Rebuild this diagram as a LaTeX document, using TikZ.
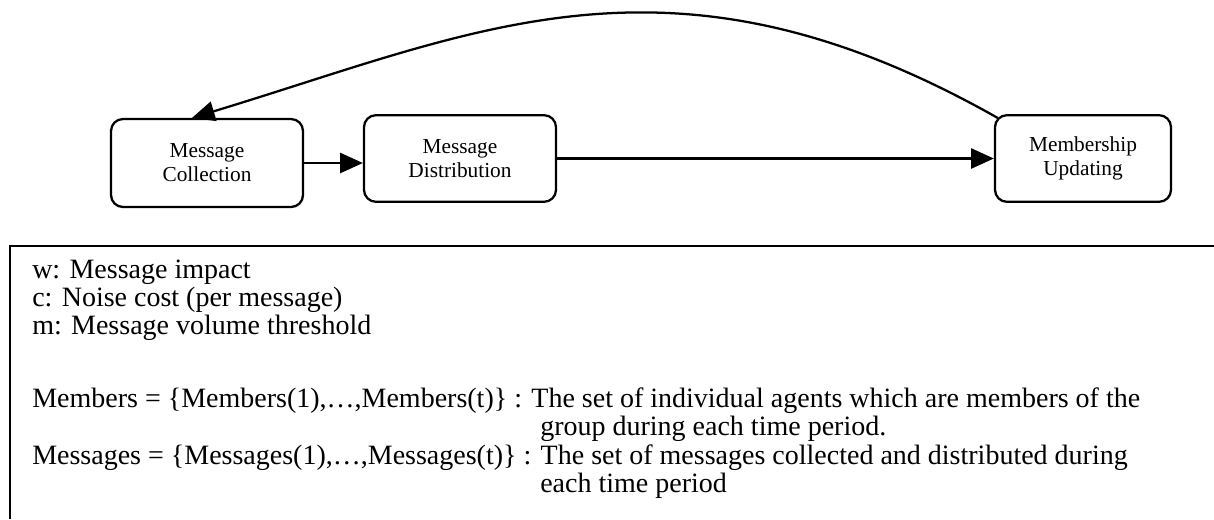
\documentclass[tikz,border=0pt]{standalone}
\usepackage{fontspec}
\setmainfont{Liberation Serif}
\usetikzlibrary{arrows.meta}
\begin{document}
\begin{tikzpicture}[x=0.75pt,y=-0.75pt,
  stage/.style={draw, line width=1.7pt, rounded corners=9pt, align=center,
    inner sep=0pt, font=\fontsize{16}{18}\selectfont},
  flow/.style={line width=1.7pt, -{Triangle[length=17pt,width=15pt]}},
  deftext/.style={anchor=base west, inner sep=0pt, font=\fontsize{21}{23}\selectfont}]
\useasboundingbox (0,0) rectangle (1214,519);

% process stages
\node[stage, minimum width=144pt, minimum height=66pt] (coll) at (207,163) {Message\\Collection};
\node[stage, minimum width=144pt, minimum height=65pt] (dist) at (460,158.5) {Message\\Distribution};
\node[stage, minimum width=132pt, minimum height=65pt] (mem) at (1083,158.5) {Membership\\Updating};

% flow between stages
\draw[flow] (coll.east) -- (coll.east -| dist.west);
\draw[flow] (dist.east) -- (mem.west);
\draw[flow] ([shift={(4,4)}]mem.north west) .. controls (671,-67) and (479,31) .. ([shift={(-15,0)}]coll.north);

% legend frame
\draw[line width=1.6pt] (10,519) -- (10,246) -- (1214,246);

% legend text: parameters
\node[deftext] (w) at (32,278) {w: Message impact};
\node[deftext] (c) at (32,306) {c: Noise cost (per message)};
\node[deftext] (m) at (32,334) {m: Message volume threshold};

% legend text: sets, with hanging descriptions
\node[deftext] (ms) at (32,407) {Members = \{Members(1),…,Members(t)\} : The set of individual agents which are members of the};
\node[deftext] (ms2) at (540,435) {group during each time period.};
\node[deftext] (mg) at (32,464) {Messages = \{Messages(1),…,Messages(t)\} : The set of messages collected and distributed during};
\node[deftext] (mg2) at (540,492) {each time period};
\end{tikzpicture}
\end{document}
